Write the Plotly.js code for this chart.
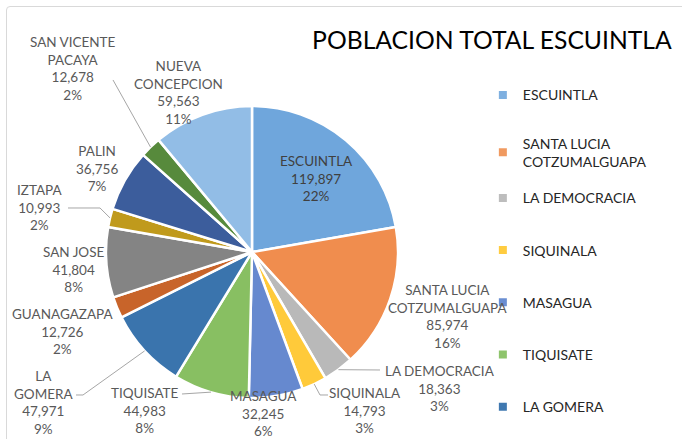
<!DOCTYPE html>
<html>
<head>
<meta charset="utf-8">
<script src="https://cdn.plot.ly/plotly-3.0.1.min.js"></script>
<style>
html,body{margin:0;padding:0;background:#fff;}
#wrap{position:relative;width:682px;height:439px;overflow:hidden;}
#frame{position:absolute;left:6px;top:6px;width:690px;height:450px;border:1px solid #d9d9d9;border-radius:4px;box-sizing:border-box;pointer-events:none;}
#chart{position:absolute;left:0;top:0;width:682px;height:439px;}
</style>
</head>
<body>
<div id="wrap"><div id="chart"></div><div id="frame"></div></div>
<script>
// ---- data ----
const categories = ["ESCUINTLA","SANTA LUCIA COTZUMALGUAPA","LA DEMOCRACIA","SIQUINALA","MASAGUA","TIQUISATE","LA GOMERA","GUANAGAZAPA","SAN JOSE","IZTAPA","PALIN","SAN VICENTE PACAYA","NUEVA CONCEPCION"];
const labelLines = ["ESCUINTLA","SANTA LUCIA<br>COTZUMALGUAPA","LA DEMOCRACIA","SIQUINALA","MASAGUA","TIQUISATE","LA<br>GOMERA","GUANAGAZAPA","SAN JOSE","IZTAPA","PALIN","SAN VICENTE<br>PACAYA","NUEVA<br>CONCEPCION"];
const population = [119897,85974,18363,14793,32245,44983,47971,12726,41804,10993,36756,12678,59563];
const legendLabels = ["ESCUINTLA","SANTA LUCIA<br>COTZUMALGUAPA","LA DEMOCRACIA","SIQUINALA","MASAGUA","TIQUISATE","LA GOMERA"];
const titleText = "POBLACION TOTAL ESCUINTLA";

// ---- styles ----
const sliceColors = ["#6fa6dc","#f08d4e","#b9b9b9","#ffca3a","#6689cf","#88bf62","#3a74ad","#c8642a","#848484","#c09a1c","#3c5d9c","#578a3c","#92bde6"];
const legendColors = ["#7fb0e0","#f09a60","#bdbdbd","#ffcc40","#6a8ed2","#8ec46c","#3f78b0"];
const legendGroupOf = ["legend","legend","legend2","legend2","legend2","legend2","legend2"];
const font = "Lato, 'Open Sans', sans-serif";
const W = 682, H = 439;
const pie = {cx: 252, cy: 252, r: 146};
// label text centres (px) and leader-line elbows (px), layout only
const labelPos = [[316,179],[448,316],[440,388],[365,410],[263,413],[145,410],[43,402],[63,331],[73,269],[40,207],[97,169],[73,68],[178,92]];
const leaders = {2: [[380,370]], 3: [[320,395],[328,395]], 5: [[182,394]], 6: [[83,395],[76,395]], 9: [[100,208],[68,208]], 11: [[113,80]]};

const total = population.reduce((a,b)=>a+b,0);
const fmt = v => v.toLocaleString("en-US");
const px = x => x / W, py = y => 1 - y / H;

const annotations = [];
const shapes = [];
let cum = 0;
population.forEach((v,i)=>{
  const mid = (cum + v/2) / total * 2 * Math.PI;
  cum += v;
  const [lx, ly] = labelPos[i];
  annotations.push({
    xref: "paper", yref: "paper", x: px(lx), y: py(ly), xanchor: "center", yanchor: "middle",
    showarrow: false, align: "center",
    text: labelLines[i] + "<br>" + fmt(v) + "<br>" + Math.round(v / total * 100) + "%",
    font: {family: font, size: 13.5, color: i === 0 ? "#404040" : "#595959"}
  });
  if (leaders[i]) {
    const ex = pie.cx + pie.r * Math.sin(mid), ey = pie.cy - pie.r * Math.cos(mid);
    const pts = [[ex,ey]].concat(leaders[i]);
    const path = pts.map((p,k)=> (k ? "L" : "M") + px(p[0]).toFixed(5) + "," + py(p[1]).toFixed(5)).join(" ");
    shapes.push({type: "path", xref: "paper", yref: "paper", path: path, line: {color: "#a6a6a6", width: 1}});
  }
});

const traces = [{
  type: "pie",
  labels: categories,
  values: population,
  sort: false,
  direction: "clockwise",
  rotation: 0,
  marker: {colors: sliceColors, line: {color: "#ffffff", width: 2.5}},
  textinfo: "none",
  showlegend: false,
  hoverinfo: "label+value+percent",
  domain: {x: [(pie.cx - pie.r) / W, (pie.cx + pie.r) / W], y: [py(pie.cy + pie.r), py(pie.cy - pie.r)]}
}];
legendLabels.forEach((lab,i)=>{
  traces.push({
    type: "scatter", mode: "markers", x: [null], y: [null],
    name: lab, legendgroup: "g"+i, legend: legendGroupOf[i],
    marker: {symbol: "square", size: 8, color: legendColors[i]},
    hoverinfo: "skip"
  });
});

const legendBase = {x: 0.708, xanchor: "left", yanchor: "top",
  font: {family: font, size: 14, color: "#262626"}, itemwidth: 30, bgcolor: "rgba(0,0,0,0)"};

const layout = {
  width: W, height: H,
  margin: {l: 0, r: 0, t: 0, b: 0},
  paper_bgcolor: "#ffffff", plot_bgcolor: "rgba(0,0,0,0)",
  title: {text: titleText, x: 0.985, xanchor: "right", xref: "paper", y: 0.908, yref: "container", yanchor: "middle",
          font: {family: font, size: 24.7, color: "#000000"}},
  xaxis: {visible: false, domain: [0.9, 0.91]},
  yaxis: {visible: false, domain: [0.9, 0.91]},
  showlegend: true,
  legend: Object.assign({}, legendBase, {y: 0.8194, tracegroupgap: 27}),
  legend2: Object.assign({}, legendBase, {y: 0.5847, tracegroupgap: 31}),
  annotations: annotations,
  shapes: shapes
};
Plotly.newPlot("chart", traces, layout, {displayModeBar: false, staticPlot: true});
</script>
</body>
</html>
